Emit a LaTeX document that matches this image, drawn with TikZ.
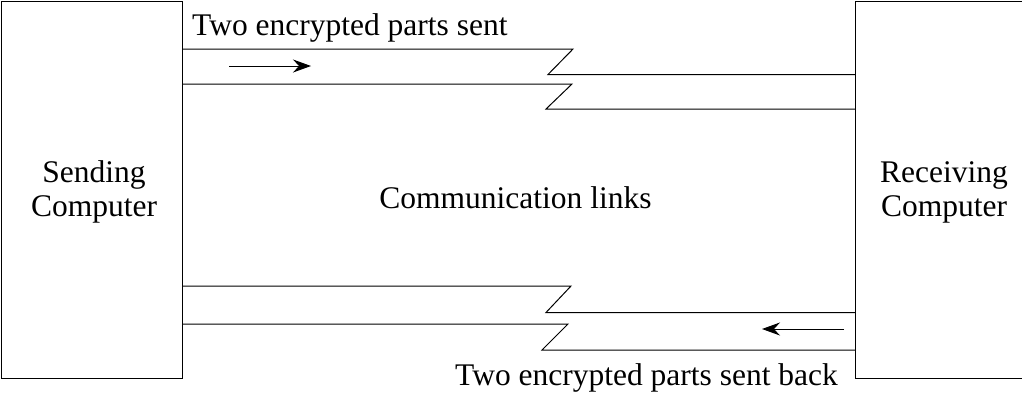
\documentclass[tikz,border=0pt]{standalone}
\usepackage{fontspec}
\setmainfont{Liberation Serif}
\usetikzlibrary{arrows.meta}
\begin{document}
\begin{tikzpicture}[x=1pt,y=-1pt,
  box/.style={draw, line width=1pt, inner sep=0pt, anchor=north west},
  lbl/.style={font=\fontsize{31.5}{34}\selectfont, inner sep=0pt, align=center},
  link/.style={draw, line width=1pt, line join=miter},
  flow/.style={draw, line width=1pt, -{Stealth[length=18pt,width=13pt,inset=6pt]}}]
\useasboundingbox (0,0) rectangle (1022,405);
% boxes
\node[box, minimum width=181.5pt, minimum height=377pt] (send) at (0.5,0.5) {};
\node[box, minimum width=167pt, minimum height=377pt] (recv) at (855,0.5) {};
\node[lbl] (sendtxt) at (94,192) {Sending\\Computer};
\node[lbl] (recvtxt) at (944,192) {Receiving\\Computer};
\node[lbl, anchor=base] (comm) at (515.5,208) {Communication links};
\node[lbl, anchor=base west] (toplbl) at (192,35) {Two encrypted parts sent};
\node[lbl, anchor=base west] (botlbl) at (455,385) {Two encrypted parts sent back};
% link coordinates
\coordinate (a1) at (182,49);  \coordinate (a2) at (573,49);  \coordinate (a3) at (548,74.5);  \coordinate (a4) at (855,74.5);
\coordinate (b1) at (182,84);  \coordinate (b2) at (572,84);  \coordinate (b3) at (546,109);   \coordinate (b4) at (855,109);
\coordinate (c1) at (182,286); \coordinate (c2) at (571,286); \coordinate (c3) at (546,312.5); \coordinate (c4) at (855,312.5);
\coordinate (d1) at (182,324); \coordinate (d2) at (568,324); \coordinate (d3) at (542,350);   \coordinate (d4) at (855,350);
\path[link] (a1) -- (a2) -- (a3) -- (a4);
\path[link] (b1) -- (b2) -- (b3) -- (b4);
\path[link] (c1) -- (c2) -- (c3) -- (c4);
\path[link] (d1) -- (d2) -- (d3) -- (d4);
% arrows
\coordinate (t1) at (229,66); \coordinate (t2) at (311,66);
\coordinate (u1) at (844,329); \coordinate (u2) at (762,329);
\path[flow] (t1) -- (t2);
\path[flow] (u1) -- (u2);
\end{tikzpicture}
\end{document}
